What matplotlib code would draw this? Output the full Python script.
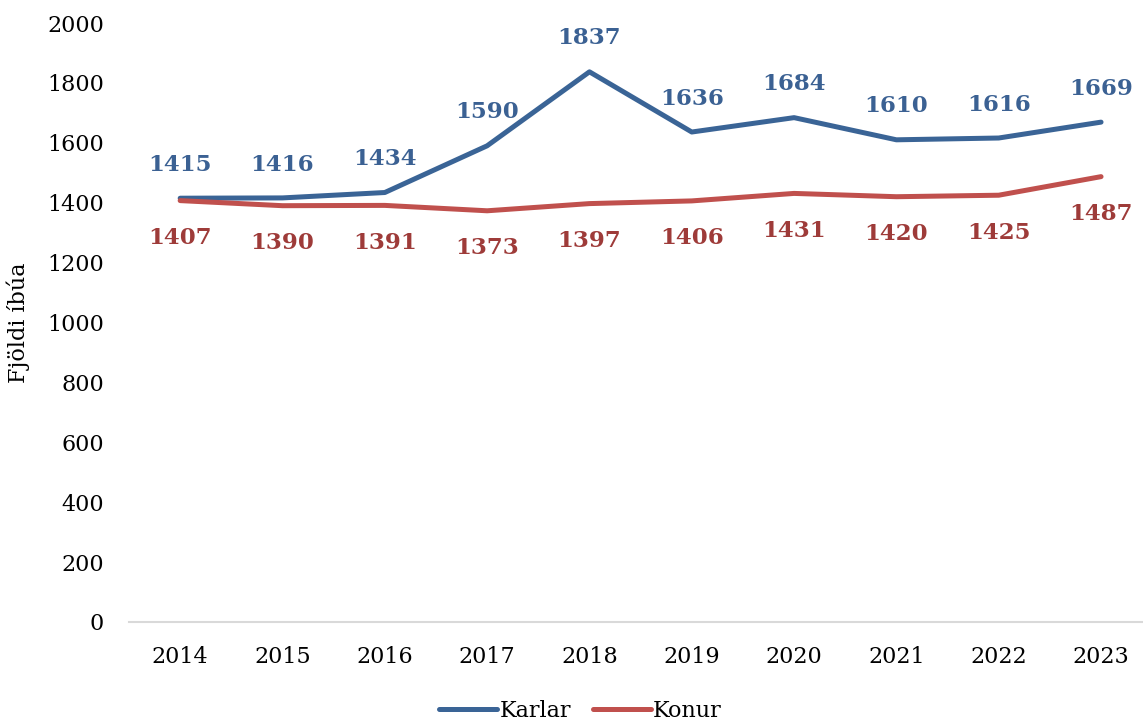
import matplotlib.pyplot as plt

years = ['2014', '2015', '2016', '2017', '2018', '2019', '2020', '2021', '2022', '2023']
karlar = [1415, 1416, 1434, 1590, 1837, 1636, 1684, 1610, 1616, 1669]
konur = [1407, 1390, 1391, 1373, 1397, 1406, 1431, 1420, 1425, 1487]

plt.rcParams['font.family'] = ['DejaVu Serif']

fig = plt.figure(figsize=(11.43, 7.24), dpi=100)
ax = fig.add_axes([129 / 1143, 1 - 622 / 724, 1 - 129 / 1143, (622 - 23) / 724])

x = range(len(years))
blue_line, blue_text = '#3A6496', '#3B6193'
red_line, red_text = '#C0504D', '#9E3B39'

ax.plot(x, karlar, color=blue_line, lw=3.6, solid_capstyle='round', label='Karlar')
ax.plot(x, konur, color=red_line, lw=3.6, solid_capstyle='round', label='Konur')

for i, v in enumerate(karlar):
    ax.annotate(str(v), (i, v), xytext=(0, 24), textcoords='offset points',
                ha='center', va='center', color=blue_text, fontsize=16.5, fontweight='bold')
for i, v in enumerate(konur):
    ax.annotate(str(v), (i, v), xytext=(0, -27), textcoords='offset points',
                ha='center', va='center', color=red_text, fontsize=16.5, fontweight='bold')

ax.set_xlim(-0.5, 9.41)
ax.set_ylim(0, 2000)
ax.set_yticks(range(0, 2001, 200))
ax.set_xticks(list(x))
ax.set_xticklabels(years)
ax.tick_params(axis='both', length=0, labelsize=16)
ax.tick_params(axis='x', pad=17)
ax.tick_params(axis='y', pad=18)

for side in ['top', 'right', 'left']:
    ax.spines[side].set_visible(False)
ax.spines['bottom'].set_color('#D9D9D9')
ax.spines['bottom'].set_linewidth(1.5)

ax.set_ylabel('Fjöldi íbúa', fontsize=16)
ax.yaxis.set_label_coords(-0.098, 0.5)

fig.legend(loc='lower center', bbox_to_anchor=(0.508, -0.025), ncol=2, frameon=False,
           fontsize=16, handlelength=2.6, handletextpad=0.1, columnspacing=1.0)

fig.savefig('out.png', dpi=100)
